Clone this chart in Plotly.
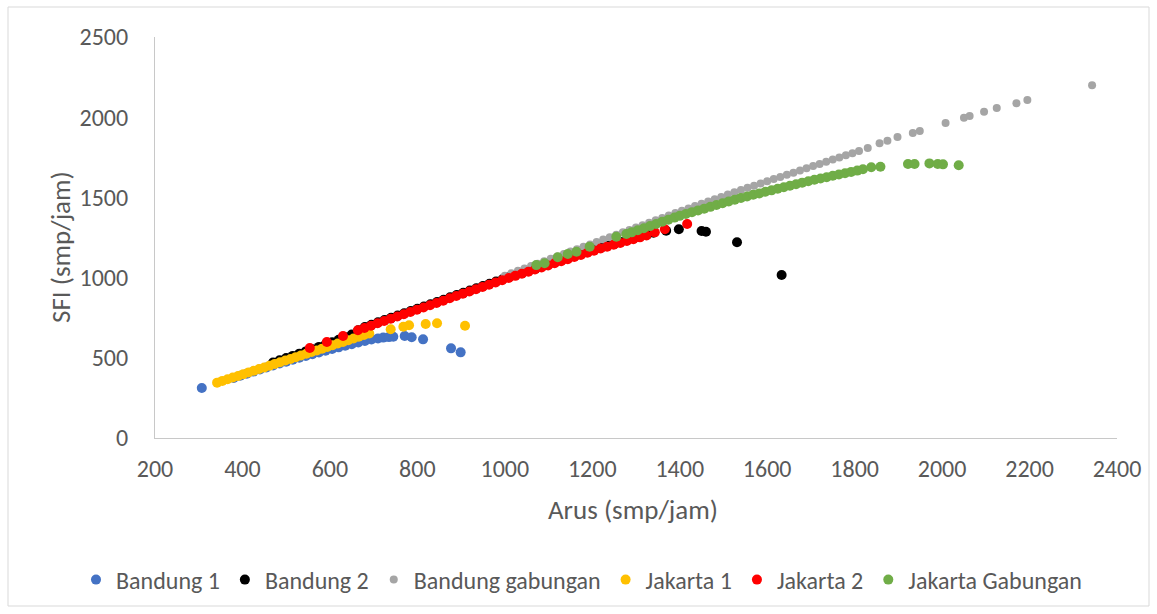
import plotly.graph_objects as go

# Arus (x) vs SFI (y) per dataset, smp/jam
bandung1_x = [307, 380, 395, 410, 425, 440, 455, 470, 485, 500, 515, 530, 545, 560, 575, 590,
              605, 620, 635, 650, 665, 680, 695, 710, 722, 735, 745, 771, 787, 813, 877, 899]
bandung1_y = [312, 374, 388, 401, 414, 427, 440, 452, 464, 476, 488, 500, 511, 522, 533, 544,
              555, 565, 575, 585, 595, 605, 614, 621, 626, 629, 631, 636, 628, 615, 559, 534]

bandung2_x = [470, 485, 500, 515, 530, 545, 560, 575, 590, 605, 620, 635, 650, 665, 680, 695,
              710, 725, 740, 755, 770, 785, 800, 815, 830, 845, 860, 875, 890, 905, 920, 935,
              950, 965, 980, 995, 1010, 1025, 1040, 1055, 1070, 1085, 1100, 1115, 1130, 1145,
              1160, 1175, 1190, 1205, 1220, 1235, 1250, 1265, 1280, 1295, 1310, 1325, 1340,
              1369, 1398, 1450, 1460, 1531, 1633]
bandung2_y = [470, 485, 498, 512, 526, 540, 554, 568, 582, 597, 612, 628, 645, 672, 692, 706,
              721, 735, 749, 763, 777, 792, 806, 820, 834, 848, 862, 877, 891, 905, 919, 933,
              948, 962, 976, 990, 1004, 1017, 1030, 1043, 1056, 1070, 1083, 1096, 1109, 1122,
              1135, 1148, 1161, 1175, 1187, 1199, 1210, 1222, 1233, 1245, 1256, 1267, 1280,
              1292, 1301, 1290, 1286, 1220, 1016]

bandung_gab_x = [1000, 1015, 1030, 1045, 1060, 1075, 1090, 1105, 1120, 1135, 1150, 1165, 1180,
                 1195, 1210, 1225, 1240, 1255, 1270, 1285, 1300, 1315, 1330, 1345, 1360, 1375,
                 1390, 1405, 1420, 1435, 1450, 1465, 1480, 1495, 1510, 1525, 1540, 1555, 1570,
                 1585, 1600, 1615, 1630, 1645, 1660, 1675, 1690, 1705, 1720, 1735, 1750, 1765,
                 1780, 1795, 1810, 1830, 1857, 1875, 1898, 1933, 1949, 2008, 2050, 2063, 2096,
                 2125, 2170, 2195, 2343]
bandung_gab_y = [1012, 1027, 1042, 1057, 1072, 1087, 1102, 1117, 1132, 1147, 1162, 1177, 1192,
                 1207, 1222, 1237, 1252, 1267, 1282, 1297, 1312, 1327, 1342, 1357, 1372, 1387,
                 1402, 1417, 1431, 1446, 1460, 1474, 1489, 1503, 1518, 1532, 1546, 1560, 1573,
                 1587, 1600, 1614, 1627, 1641, 1654, 1668, 1681, 1695, 1709, 1722, 1736, 1749,
                 1763, 1776, 1790, 1808, 1837, 1853, 1876, 1901, 1914, 1964, 1997, 2007, 2034,
                 2057, 2087, 2107, 2199]

jakarta1_x = [342, 354, 366, 378, 390, 402, 414, 426, 438, 450, 462, 474, 486, 498, 510, 522,
              534, 546, 558, 570, 582, 594, 606, 618, 630, 642, 654, 666, 678, 690,
              739, 768, 781, 819, 845, 909]
jakarta1_y = [345, 356, 366, 377, 387, 398, 409, 419, 430, 440, 451, 462, 472, 483, 493, 504,
              515, 525, 536, 546, 557, 568, 578, 589, 599, 610, 620, 631, 642, 652,
              678, 694, 703, 711, 715, 700]

jakarta2_x = [554, 593, 630, 664, 679, 694, 709, 724, 739, 754, 769, 784, 799, 814, 829, 844,
              859, 874, 889, 904, 919, 934, 949, 964, 979, 994, 1009, 1024, 1039, 1054, 1069,
              1084, 1099, 1114, 1129, 1144, 1159, 1174, 1189, 1204, 1219, 1234, 1249, 1264,
              1279, 1294, 1309, 1324, 1343, 1366, 1417]
jakarta2_y = [561, 598, 636, 672, 686, 700, 715, 729, 743, 757, 771, 786, 800, 814, 828, 842,
              856, 871, 885, 899, 913, 928, 942, 956, 970, 984, 998, 1011, 1024, 1037, 1050,
              1063, 1076, 1089, 1102, 1115, 1128, 1141, 1155, 1168, 1181, 1193, 1205, 1216,
              1228, 1239, 1251, 1262, 1282, 1301, 1334]

jakarta_gab_x = [1072, 1091, 1121, 1144, 1164, 1194, 1255, 1278, 1290, 1304, 1318, 1332, 1346,
                 1360, 1374, 1388, 1400, 1414, 1428, 1442, 1456, 1470, 1484, 1498, 1512, 1526,
                 1540, 1554, 1568, 1582, 1596, 1610, 1624, 1638, 1652, 1666, 1680, 1694, 1708,
                 1722, 1736, 1750, 1764, 1778, 1792, 1806, 1819, 1838, 1859, 1922, 1937, 1971,
                 1990, 2002, 2038]
jakarta_gab_y = [1078, 1089, 1127, 1147, 1161, 1193, 1255, 1272, 1282, 1295, 1308, 1321, 1334,
                 1348, 1361, 1374, 1385, 1397, 1408, 1419, 1430, 1441, 1453, 1464, 1475, 1486,
                 1497, 1506, 1516, 1525, 1535, 1544, 1554, 1563, 1573, 1582, 1592, 1601, 1610,
                 1618, 1626, 1635, 1643, 1651, 1659, 1667, 1675, 1688, 1691, 1708, 1708, 1712,
                 1708, 1706, 1700]

series = [
    ("Bandung 1", bandung1_x, bandung1_y, "#4472C4", 10),
    ("Bandung 2", bandung2_x, bandung2_y, "#000000", 10),
    ("Bandung gabungan", bandung_gab_x, bandung_gab_y, "#A5A5A5", 8),
    ("Jakarta 1", jakarta1_x, jakarta1_y, "#FFC000", 10),
    ("Jakarta 2", jakarta2_x, jakarta2_y, "#FF0000", 10),
    ("Jakarta Gabungan", jakarta_gab_x, jakarta_gab_y, "#70AD47", 10),
]

FONT = "Carlito, Calibri, 'Liberation Sans Narrow', 'Arial Narrow', sans-serif"
TEXT = "#595959"

fig = go.Figure()
for name, xs, ys, color, size in series:
    fig.add_trace(go.Scatter(
        x=xs, y=ys, mode="markers", name=name,
        marker=dict(color=color, size=size, line=dict(width=0)),
    ))

# plot area in pixels: left 155, right 1117, top 37, bottom 438
W, H = 1157, 614
L, R, T, B = 155, 1117, 37, 438
pw, ph = R - L, B - T

def px(xp):
    return (xp - L) / pw

def py(yp):
    return (B - yp) / ph

axis_common = dict(
    showgrid=False, zeroline=False, showline=True, linecolor="#C8C8C8", linewidth=1,
    ticks="", tickfont=dict(family=FONT, size=24, color=TEXT), mirror=False,
)

fig.update_layout(
    width=W, height=H,
    margin=dict(l=L, r=W - R, t=T, b=H - B, autoexpand=False),
    paper_bgcolor="white", plot_bgcolor="white",
    font=dict(family=FONT, color=TEXT),
    xaxis=dict(range=[200, 2400], tick0=200, dtick=200, ticklabelstandoff=9, **axis_common),
    yaxis=dict(range=[0, 2500], tick0=0, dtick=500, ticklabelstandoff=21, **axis_common),
    legend=dict(
        orientation="h", x=px(76), xanchor="left", y=py(580), yanchor="middle",
        font=dict(family=FONT, size=24, color=TEXT), bgcolor="rgba(0,0,0,0)",
    ),
    annotations=[
        dict(text="Arus (smp/jam)", xref="paper", yref="paper", x=px(633), y=py(510),
             xanchor="center", yanchor="middle", showarrow=False,
             font=dict(family=FONT, size=27, color=TEXT)),
        dict(text="SFI (smp/jam)", xref="paper", yref="paper", x=px(60), y=py(247),
             xanchor="center", yanchor="middle", showarrow=False, textangle=-90,
             font=dict(family=FONT, size=27, color=TEXT)),
    ],
    shapes=[
        dict(type="rect", xref="paper", yref="paper", x0=px(8), x1=px(1149), y0=py(606), y1=py(7),
             line=dict(color="#D9D9D9", width=1), fillcolor="rgba(0,0,0,0)", layer="below"),
    ],
)

fig.write_html("out.html")
